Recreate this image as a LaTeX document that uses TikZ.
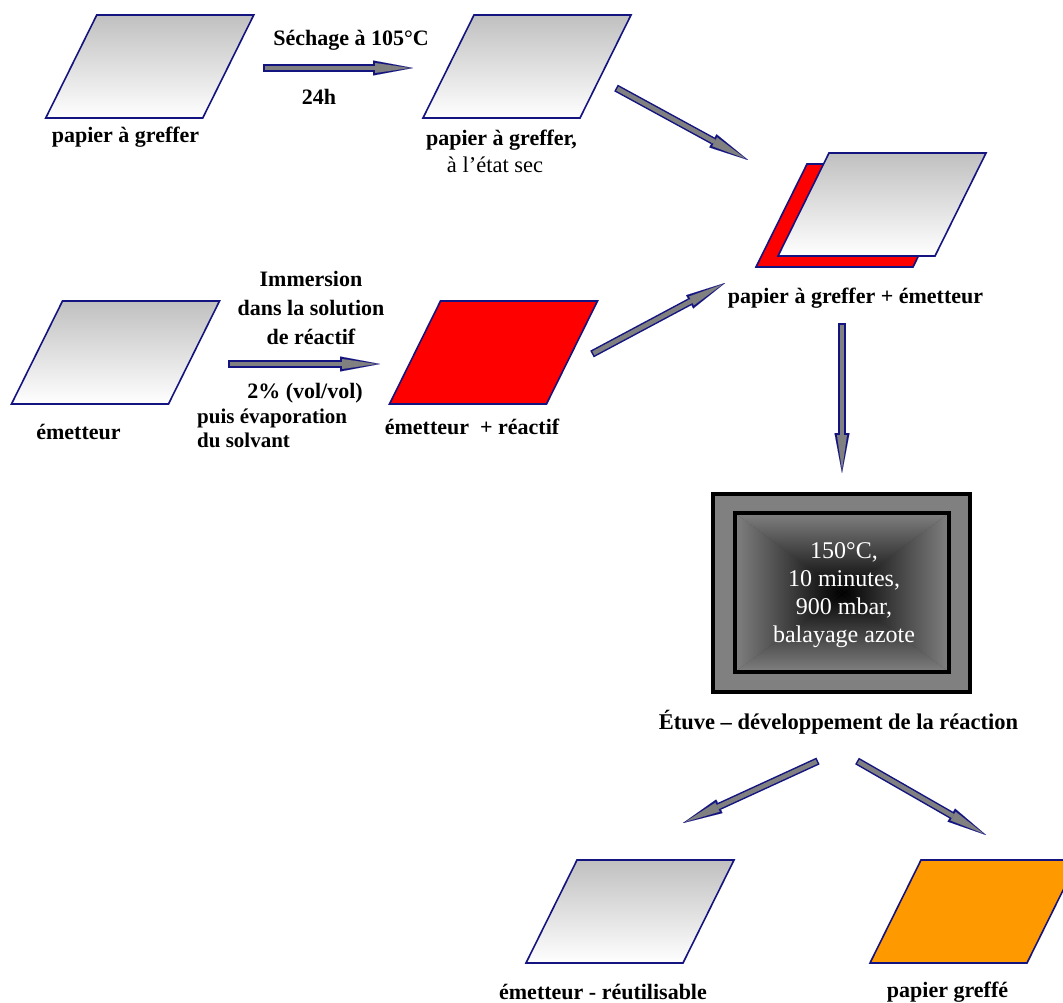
\documentclass[tikz,border=0pt]{standalone}
\usepackage{fontspec}
\setmainfont{Liberation Serif}
\usetikzlibrary{arrows.meta}
\definecolor{navyc}{RGB}{20,20,128}
\definecolor{midgray}{RGB}{128,128,128}
\definecolor{lgray}{RGB}{192,192,192}
\definecolor{orangec}{RGB}{255,153,0}
\definecolor{redc}{RGB}{255,0,0}
\tikzset{
  para/.style={draw=navyc, line width=1.6pt, minimum width=157pt, minimum height=103pt,
    inner sep=0pt, outer sep=0pt, xslant=0.495},
  paper/.style={para, top color=lgray, bottom color=white},
  redp/.style={para, fill=redc},
  orangep/.style={para, fill=orangec},
  lbl/.style={font=\fontsize{22}{26}\selectfont\bfseries, inner sep=0pt, align=center},
  rlbl/.style={font=\fontsize{22.5}{26}\selectfont, inner sep=0pt, align=center},
  arrout/.style={draw=navyc, line width=7.5pt, -{Triangle[length=40pt 0 0,width=15pt 0 0,line width=0.01pt 0 0]}},
  arrin/.style={draw=midgray, line width=4.5pt, shorten >=3pt, shorten <=1.5pt, -{Triangle[length=35pt 0 0,width=10pt 0 0,line width=0.01pt 0 0]}},
}
\newcommand\blockarr[2]{%
  \draw[arrout] (#1) -- (#2);
  \draw[arrin] (#1) -- (#2);}
\newcommand\paraedges[1]{%
  \draw[navyc, line width=2.8pt] (#1.south west) -- (#1.south east);
  \draw[navyc, line width=2.4pt] (#1.north west) -- (#1.north east);}
\begin{document}
\begin{tikzpicture}[x=1pt,y=-1pt]
\path[use as bounding box, fill=white] (0,0) rectangle (1063,1003);
\clip (0,0) rectangle (1063,1003);

% sheets
\node[paper] (p1) at (149.75,66.5) {};
\paraedges{p1}
\node[paper] (p2) at (527,66.5) {};
\paraedges{p2}
\node[redp] (p3b) at (860,215.5) {};
\paraedges{p3b}
\node[paper] (p3) at (882,204.5) {};
\paraedges{p3}
\node[paper] (p4) at (115.5,352.5) {};
\paraedges{p4}
\node[redp] (p5) at (493.5,352.5) {};
\paraedges{p5}
\node[paper] (p6) at (630,911.5) {};
\paraedges{p6}
\node[orangep] (p7) at (974,911.5) {};
\paraedges{p7}

% oven
\node[draw=black, line width=4pt, fill=midgray, minimum width=257pt, minimum height=198pt] (oven) at (841.5,593) {};
\node[minimum width=214pt, minimum height=159pt, inner sep=0pt, outer sep=0pt, fill=midgray!50!black] (ovin) at (842,592.5) {};
\shade[top color=midgray, bottom color=black] (ovin.north west) -- (ovin.north east) -- (ovin.center) -- cycle;
\shade[bottom color=midgray, top color=black] (ovin.south west) -- (ovin.south east) -- (ovin.center) -- cycle;
\shade[left color=midgray, right color=black] (ovin.north west) -- (ovin.south west) -- (ovin.center) -- cycle;
\shade[right color=midgray, left color=black] (ovin.north east) -- (ovin.south east) -- (ovin.center) -- cycle;
\draw[black, line width=4pt] (ovin.north west) rectangle (ovin.south east);
\node[font=\fontsize{24}{28}\selectfont, text=white, align=center, inner sep=0pt] (ovtxt) at (844,595)
  {150°C,\\10 minutes,\\900 mbar,\\balayage azote};

% labels
\node[lbl] (l1) at (125.5,137) {papier à greffer};
\node[lbl] (t1) at (351,40) {Séchage à 105°C};
\node[lbl] (t2) at (319,97) {24h};
\node[lbl] (l2) at (501.5,140) {papier à greffer,};
\node[rlbl] (l2b) at (495,165) {à l’état sec};
\node[lbl] (l3) at (855.5,298) {papier à greffer + émetteur};
\node[lbl, font=\fontsize{22}{29}\selectfont\bfseries] (t3) at (311,308) {Immersion\\dans la solution\\de réactif};
\node[lbl] (t4) at (305,393) {2\% (vol/vol)};
\node[lbl, font=\fontsize{21}{24}\selectfont\bfseries, align=left, anchor=west] (t5) at (197,428) {puis évaporation\\du solvant};
\node[lbl] (l4) at (78.5,432) {émetteur};
\node[lbl] (l5) at (472,427) {émetteur \ + réactif};
\node[lbl, font=\fontsize{22.5}{26}\selectfont\bfseries] (l6) at (838.5,722) {Étuve – développement de la réaction};
\node[lbl] (l7) at (603,992) {émetteur - réutilisable};
\node[lbl] (l8) at (947.5,992) {papier greffé};

% arrows
\coordinate (a1s) at (263,68);  \coordinate (a1e) at (413,68);
\coordinate (a2s) at (616,88);  \coordinate (a2e) at (748,160);
\coordinate (a3s) at (228,364); \coordinate (a3e) at (380,364);
\coordinate (a4s) at (592,354); \coordinate (a4e) at (725,283);
\coordinate (a5s) at (842,323); \coordinate (a5e) at (842,473);
\coordinate (a6s) at (818,761); \coordinate (a6e) at (683,823);
\coordinate (a7s) at (857,761); \coordinate (a7e) at (986,835);
\blockarr{a1s}{a1e}
\blockarr{a2s}{a2e}
\blockarr{a3s}{a3e}
\blockarr{a4s}{a4e}
\blockarr{a5s}{a5e}
\blockarr{a6s}{a6e}
\blockarr{a7s}{a7e}
\end{tikzpicture}
\end{document}
